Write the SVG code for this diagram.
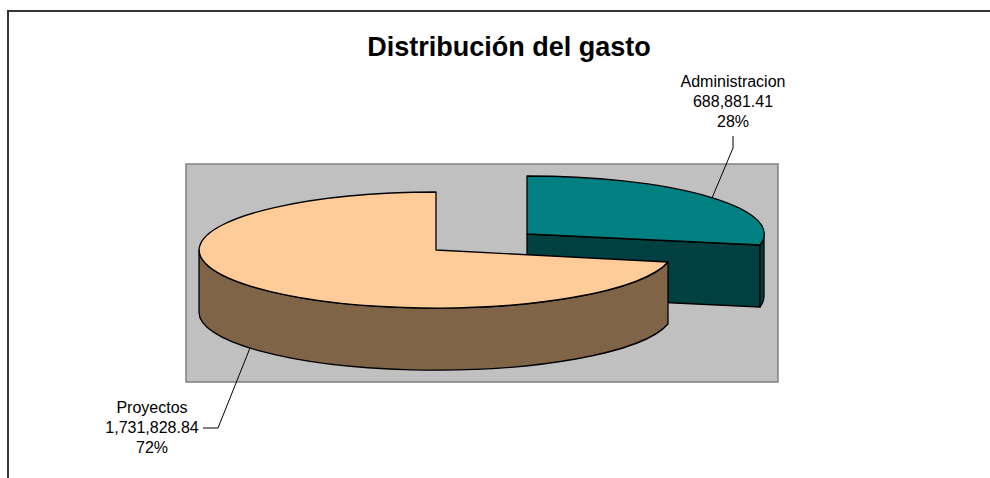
<svg xmlns="http://www.w3.org/2000/svg" width="990" height="478" viewBox="0 0 990 478">
<style>
.lbl{font-family:"Liberation Sans",Arial,sans-serif;font-size:16px;fill:#000;text-anchor:middle}
.ttl{font-family:"Liberation Sans",Arial,sans-serif;font-size:27px;font-weight:bold;fill:#000;text-anchor:middle}
.edge{stroke:#000;stroke-width:1.3;stroke-linejoin:round}
.lead{stroke:#000;stroke-width:1;fill:none}
</style>
<rect x="0" y="0" width="990" height="478" fill="#fff"/>
<g id="chart-border">
<path d="M8,478 L8,11 L990,11" fill="none" stroke="#333" stroke-width="2"/>
</g>
<g id="title"><text class="ttl" x="509" y="56">Distribución del gasto</text></g>
<g id="plot-area"><rect x="186" y="164" width="592" height="218" fill="#C0C0C0" stroke="#808080" stroke-width="1.5"/></g>
<g id="slice-administracion">
<path class="edge" d="M527,234 L760,245 L760,307 L527,296 Z" fill="#004040"/>
<path class="edge" d="M764,234 A237,58 0 0 1 760,245 L760,307 A237,58 0 0 0 764,296 Z" fill="#004040"/>
<path class="edge" d="M527,234 L527,176 A237,58 0 0 1 760,245 Z" fill="#008080"/>
</g>
<g id="slice-proyectos">
<path class="edge" d="M199,250 A237,58 0 0 0 668,262 L668,324 A237,58 0 0 1 199,312 Z" fill="#7F6448"/>
<path class="edge" d="M436,250 L436,192 A237,58 0 1 0 668,262 Z" fill="#FFCC99"/>
</g>
<g id="connectors">
<path class="lead" d="M733,136 L733,148 L712,198"/>
<path class="lead" d="M250,348 L218,428 L203,428"/>
</g>
<g id="label-administracion">
<text class="lbl" x="733" y="87">Administracion</text>
<text class="lbl" x="733" y="107">688,881.41</text>
<text class="lbl" x="733" y="127">28%</text>
</g>
<g id="label-proyectos">
<text class="lbl" x="152" y="413">Proyectos</text>
<text class="lbl" x="152" y="433">1,731,828.84</text>
<text class="lbl" x="152" y="453">72%</text>
</g>
</svg>
